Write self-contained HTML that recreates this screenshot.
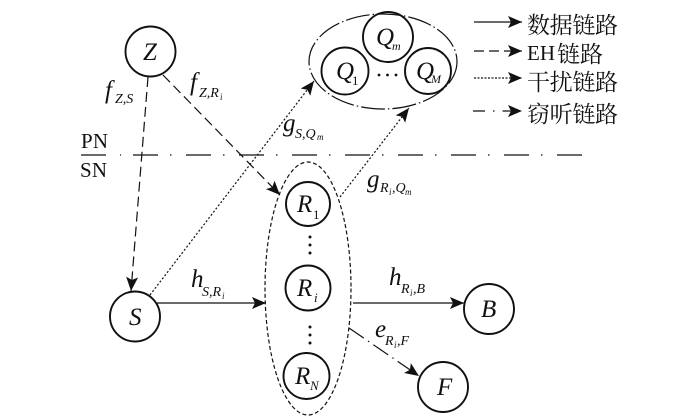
<!DOCTYPE html>
<html><head><meta charset="utf-8"><style>
html,body{margin:0;padding:0;background:#fff}
svg{display:block}
text{font-family:"Liberation Serif","Noto Serif CJK SC",serif;fill:#111}
.i{font-style:italic}
.c{fill:none;stroke:#111;stroke-width:1.9}
.l{fill:none;stroke:#111;stroke-width:1.2}
</style></head><body>
<svg xmlns="http://www.w3.org/2000/svg" width="700" height="418" viewBox="0 0 700 418">
<defs><marker id="a" markerUnits="userSpaceOnUse" markerWidth="20" markerHeight="16" refX="14" refY="6" orient="auto" viewBox="0 0 20 12"><path d="M0 0L14 6L0 12L3 6Z" fill="#111"/></marker></defs>

<circle class="c" cx="150.5" cy="51.5" r="25"/>
<circle class="c" cx="135" cy="316.5" r="25"/>
<circle class="c" cx="308" cy="204" r="22"/>
<circle class="c" cx="308" cy="288" r="22.5"/>
<circle class="c" cx="306.5" cy="376" r="23"/>
<circle class="c" cx="489" cy="309" r="25"/>
<circle class="c" cx="443" cy="387" r="25"/>
<circle class="c" cx="388" cy="37" r="25"/>
<circle class="c" cx="345" cy="71" r="23.5"/>
<circle class="c" cx="428" cy="71" r="23"/>

<ellipse class="l" cx="383" cy="61.5" rx="74" ry="47.5" stroke-dasharray="24 3 1.5 3"/>
<ellipse class="l" cx="308" cy="288.5" rx="43" ry="126.5" stroke-dasharray="4 2.5"/>

<line class="l" x1="81" y1="155" x2="106" y2="155" stroke-width="1.3"/>
<line class="l" x1="120" y1="155" x2="121" y2="155"/>
<line class="l" x1="133" y1="155" x2="582" y2="155" stroke-dasharray="25 12 1.5 14.5"/>

<line class="l" x1="148" y1="77" x2="131" y2="291" stroke-dasharray="10 5" marker-end="url(#a)"/>
<line class="l" x1="163" y1="75" x2="280" y2="195" stroke-dasharray="10 5" marker-end="url(#a)"/>
<line class="l" x1="150" y1="295" x2="314" y2="81" stroke-dasharray="2 2" marker-end="url(#a)"/>
<line class="l" x1="340" y1="197" x2="409" y2="108" stroke-dasharray="2 2" marker-end="url(#a)"/>
<line class="l" x1="157" y1="303" x2="266" y2="303" marker-end="url(#a)"/>
<line class="l" x1="353" y1="303" x2="464" y2="303" marker-end="url(#a)"/>
<line class="l" x1="349" y1="328" x2="419" y2="376" stroke-dasharray="18 5 1.5 5" marker-end="url(#a)"/>

<line class="l" x1="474" y1="22" x2="522" y2="22" marker-end="url(#a)"/>
<line class="l" x1="474" y1="51" x2="522" y2="51" stroke-dasharray="10 5" marker-end="url(#a)"/>
<line class="l" x1="474" y1="78" x2="522" y2="78" stroke-dasharray="2 1.5" marker-end="url(#a)"/>
<line class="l" x1="473" y1="111" x2="522" y2="111" stroke-dasharray="12 8 1.5 8" marker-end="url(#a)"/>

<text x="527" y="33" font-size="23" textLength="91">数据链路</text>
<text x="527" y="60" font-size="21">EH</text>
<text x="557" y="62" font-size="23" textLength="46">链路</text>
<text x="527" y="90" font-size="23" textLength="91">干扰链路</text>
<text x="527" y="122" font-size="23" textLength="91">窃听链路</text>

<text x="81" y="148" font-size="21" textLength="27">PN</text>
<text x="80" y="177" font-size="21" textLength="27">SN</text>

<text class="i" x="143" y="60" font-size="25">Z</text>
<text class="i" x="129" y="325" font-size="25">S</text>
<text class="i" x="297" y="212" font-size="25">R</text><text x="313" y="219" font-size="13">1</text>
<text class="i" x="297" y="296" font-size="25">R</text><text class="i" x="314" y="302" font-size="13">i</text>
<text class="i" x="295" y="384" font-size="25">R</text><text class="i" x="310" y="390" font-size="13">N</text>
<text class="i" x="481" y="317" font-size="25">B</text>
<text class="i" x="437" y="395" font-size="25">F</text>
<text class="i" x="376" y="45" font-size="25">Q</text><text class="i" x="392" y="50" font-size="12">m</text>
<text class="i" x="336" y="79" font-size="25">Q</text><text x="352" y="85" font-size="13">1</text>
<text class="i" x="416" y="79" font-size="25">Q</text><text class="i" x="431" y="83" font-size="12">M</text>

<text class="i" x="105" y="98" font-size="25">f</text><text class="i" x="115" y="103" font-size="14">Z,S</text>
<text class="i" x="190" y="90" font-size="25">f</text><text class="i" x="199" y="97" font-size="14">Z,R</text><text class="i" x="220" y="100" font-size="9">i</text>
<text class="i" x="283" y="131" font-size="25">g</text><text class="i" x="295" y="138" font-size="14">S,Q</text><text class="i" x="317" y="140" font-size="9">m</text>
<text class="i" x="367" y="187" font-size="25">g</text><text class="i" x="380" y="192" font-size="14">R</text><text class="i" x="389" y="195" font-size="9">i</text><text class="i" x="392" y="192" font-size="14">,Q</text><text class="i" x="405" y="195" font-size="9">m</text>
<text class="i" x="191" y="287" font-size="25">h</text><text class="i" x="202" y="296" font-size="14">S,R</text><text class="i" x="222" y="299" font-size="9">i</text>
<text class="i" x="389" y="285" font-size="25">h</text><text class="i" x="401" y="293" font-size="14">R</text><text class="i" x="410" y="296" font-size="9">i</text><text class="i" x="413" y="293" font-size="14">,B</text>
<text class="i" x="375" y="337" font-size="25">e</text><text class="i" x="385" y="345" font-size="14">R</text><text class="i" x="394" y="348" font-size="9">i</text><text class="i" x="397" y="345" font-size="14">,F</text>

<g fill="#111">
<circle cx="379" cy="75" r="1.4"/><circle cx="387.5" cy="75" r="1.4"/><circle cx="396" cy="75" r="1.4"/>
<circle cx="310" cy="237" r="1.5"/><circle cx="310" cy="245" r="1.5"/><circle cx="310" cy="253" r="1.5"/>
<circle cx="310" cy="327" r="1.5"/><circle cx="310" cy="335" r="1.5"/><circle cx="310" cy="343" r="1.5"/>
</g>
</svg>
</body></html>
